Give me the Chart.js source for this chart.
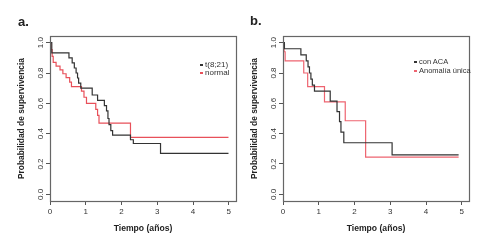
<!DOCTYPE html>
<html>
<head>
<meta charset="utf-8">
<script src="https://cdn.jsdelivr.net/npm/chart.js@4.4.1/dist/chart.umd.min.js"></script>
<style>
  body { margin: 0; background: #fff; font-family: "Liberation Sans", Arial, sans-serif; }
  #wrap { position: relative; width: 487px; height: 244px; overflow: hidden; }
  canvas { position: absolute; top: 0; }
  .panel { position: absolute; font-weight: bold; font-size: 13px; line-height: 13px; color: #222; }
  .legend { position: absolute; font-size: 8px; line-height: 8px; color: #333; white-space: nowrap; }
  .legend span { display: inline-block; width: 3px; height: 2px; margin-right: 2px; vertical-align: middle; }
</style>
</head>
<body>
<div id="wrap">
  <canvas id="chartA" width="243" height="244" style="left:0"></canvas>
  <canvas id="chartB" width="254" height="244" style="left:233px"></canvas>
  <div class="panel" style="left:18px; top:15px">a.</div>
  <div class="panel" style="left:250px; top:14px">b.</div>
  <div class="legend" style="left:200px; top:61px">
    <div><span style="background:#333"></span>t(8;21)</div>
    <div><span style="background:#e8505a"></span>normal</div>
  </div>
  <div class="legend" style="left:414px; top:58px; font-size:7.5px">
    <div><span style="background:#333"></span>con ACA</div>
    <div style="margin-top:1px"><span style="background:#ee6470"></span>Anomalía única</div>
  </div>
</div>
<script>
  'use strict';

  // panel a: t(8;21) vs normal karyotype
  const timeA821 = [0, 0.05, 0.53, 0.62, 0.68, 0.73, 0.77, 0.80, 0.86, 1.18, 1.33, 1.52, 1.58, 1.62, 1.65, 1.70, 1.75, 2.25, 2.33, 3.09, 4.99];
  const survA821 = [1.0, 0.933, 0.90, 0.867, 0.833, 0.80, 0.767, 0.733, 0.70, 0.655, 0.62, 0.585, 0.55, 0.50, 0.46, 0.42, 0.39, 0.36, 0.335, 0.27, 0.27];
  const timeANormal = [0, 0.03, 0.06, 0.09, 0.17, 0.28, 0.36, 0.45, 0.55, 0.60, 0.88, 0.95, 1.02, 1.28, 1.33, 1.37, 2.25, 4.99];
  const survANormal = [1.0, 0.955, 0.91, 0.87, 0.845, 0.82, 0.795, 0.77, 0.74, 0.71, 0.68, 0.64, 0.60, 0.56, 0.52, 0.47, 0.375, 0.375];

  // panel b: con ACA vs anomalia unica
  const timeBAca = [0, 0.04, 0.50, 0.65, 0.70, 0.74, 0.78, 0.82, 0.88, 1.32, 1.51, 1.58, 1.62, 1.70, 3.05, 4.91];
  const survBAca = [1.0, 0.96, 0.92, 0.88, 0.84, 0.80, 0.76, 0.72, 0.68, 0.615, 0.545, 0.48, 0.41, 0.34, 0.26, 0.26];
  const timeBUnica = [0, 0.03, 0.06, 0.58, 0.69, 1.16, 1.74, 2.31, 4.91];
  const survBUnica = [1.0, 0.94, 0.88, 0.80, 0.71, 0.61, 0.485, 0.245, 0.245];

  const xTicks = [0, 1, 2, 3, 4, 5];
  const yTicks = [0, 0.2, 0.4, 0.6, 0.8, 1.0];

  const labelA = ['t(8;21)', 'normal'];
  const labelB = ['con ACA', 'Anomalía única'];

  function toPoints(times, surv) {
    return times.map((t, i) => ({ x: t, y: surv[i] }));
  }

  // R style frame around the plot region
  const boxPlugin = {
    id: 'box',
    afterDraw(chart) {
      const a = chart.chartArea;
      const ctx = chart.ctx;
      ctx.save();
      ctx.strokeStyle = '#666';
      ctx.lineWidth = 1.2;
      ctx.strokeRect(Math.round(a.left) + 0.5, Math.round(a.top) + 0.5,
        Math.round(a.right - a.left), Math.round(a.bottom - a.top));
      ctx.restore();
    }
  };

  function makePanel(id, labels, series, colors, padRight) {
    const ctx = document.getElementById(id).getContext('2d');
    return new Chart(ctx, {
      type: 'line',
      data: {
        datasets: series.map((s, i) => ({
          label: labels[i],
          data: toPoints(s[0], s[1]),
          borderColor: colors[i],
          borderWidth: 1.2,
          stepped: 'before',
          pointRadius: 0,
          fill: false
        }))
      },
      options: {
        responsive: false,
        animation: false,
        devicePixelRatio: 1,
        layout: { padding: { left: 16, right: padRight, top: 36, bottom: 10 } },
        plugins: { legend: { display: false }, tooltip: { enabled: false } },
        scales: {
          x: {
            type: 'linear',
            min: 0,
            max: 5.2,
            afterBuildTicks: (scale) => { scale.ticks = xTicks.map(v => ({ value: v })); },
            afterFit: (scale) => { scale.height = 33; },
            grid: { display: true, drawOnChartArea: false, drawTicks: true, tickLength: 4, color: '#555' },
            border: { display: false },
            ticks: { color: '#333', font: { size: 8, family: 'Liberation Sans' }, padding: 2, maxRotation: 0,
              callback: (v) => String(v) },
            title: { display: true, text: 'Tiempo (años)', color: '#222',
              font: { size: 8.6, weight: 'bold', family: 'Liberation Sans' }, padding: { top: 0, bottom: 0.6 } }
          },
          y: {
            min: -0.044,
            max: 1.044,
            afterBuildTicks: (scale) => { scale.ticks = yTicks.map(v => ({ value: v })); },
            afterFit: (scale) => { scale.width = 34; },
            grid: { display: true, drawOnChartArea: false, drawTicks: true, tickLength: 4, color: '#555' },
            border: { display: false },
            ticks: { color: '#333', font: { size: 8, family: 'Liberation Sans' }, padding: 0,
              minRotation: 90, maxRotation: 90, crossAlign: 'center',
              callback: (v) => Number(v).toFixed(1) },
            title: { display: true, text: 'Probabilidad de supervivencia', color: '#222',
              font: { size: 8.4, weight: 'bold', family: 'Liberation Sans' }, padding: { top: 0.3, bottom: 0 } }
          }
        }
      },
      plugins: [boxPlugin]
    });
  }

  makePanel('chartA', labelA, [[timeA821, survA821], [timeANormal, survANormal]], ['#333333', '#e8505a'], 7);
  makePanel('chartB', labelB, [[timeBAca, survBAca], [timeBUnica, survBUnica]], ['#333333', '#ee6470'], 18);
</script>
</body>
</html>
